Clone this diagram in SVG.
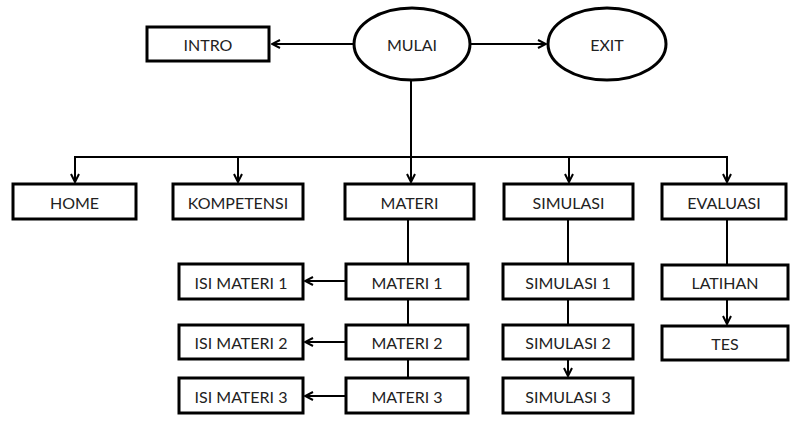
<svg xmlns="http://www.w3.org/2000/svg" width="790" height="421" viewBox="0 0 790 421">
<style>
.box{fill:#fff;stroke:#000;stroke-width:3}
.lbl{font-family:Lato,"Liberation Sans",sans-serif;font-size:16px;fill:#222;text-anchor:middle;dominant-baseline:central}
.ln{fill:none;stroke:#000;stroke-width:2}
</style>
<defs>
<marker id="ah" viewBox="0 0 10 10" refX="9" refY="5" markerWidth="10" markerHeight="10" markerUnits="userSpaceOnUse" orient="auto">
<path d="M1,1 L9,5 L1,9" fill="none" stroke="#000" stroke-width="2"/>
</marker>
</defs>
<g id="connectors">
<line class="ln" x1="354" y1="44" x2="272" y2="44" marker-end="url(#ah)"/>
<line class="ln" x1="470" y1="44" x2="546" y2="44" marker-end="url(#ah)"/>
<line class="ln" x1="411" y1="80" x2="411" y2="157"/>
<polyline class="ln" points="75,182 75,157 727,157 727,182"/>
<line class="ln" x1="75" y1="157" x2="75" y2="182" marker-end="url(#ah)"/>
<line class="ln" x1="238" y1="157" x2="238" y2="182" marker-end="url(#ah)"/>
<line class="ln" x1="411" y1="157" x2="411" y2="182" marker-end="url(#ah)"/>
<line class="ln" x1="569" y1="157" x2="569" y2="182" marker-end="url(#ah)"/>
<line class="ln" x1="727" y1="157" x2="727" y2="182" marker-end="url(#ah)"/>
<line class="ln" x1="408" y1="220" x2="408" y2="378"/>
<line class="ln" x1="346" y1="281" x2="305" y2="281" marker-end="url(#ah)"/>
<line class="ln" x1="346" y1="342" x2="305" y2="342" marker-end="url(#ah)"/>
<line class="ln" x1="346" y1="396" x2="305" y2="396" marker-end="url(#ah)"/>
<line class="ln" x1="568" y1="220" x2="568" y2="325"/>
<line class="ln" x1="568" y1="359" x2="568" y2="376" marker-end="url(#ah)"/>
<line class="ln" x1="727" y1="220" x2="727" y2="265"/>
<line class="ln" x1="727" y1="299" x2="727" y2="324" marker-end="url(#ah)"/>
</g>
<g id="intro"><rect class="box" x="147" y="27" width="122" height="34"/><text class="lbl" x="208" y="44">INTRO</text></g>
<g id="mulai"><ellipse class="box" cx="412" cy="44" rx="58" ry="36"/><text class="lbl" x="412" y="44">MULAI</text></g>
<g id="exit"><ellipse class="box" cx="607" cy="44" rx="59" ry="36"/><text class="lbl" x="607" y="44">EXIT</text></g>
<g id="home"><rect class="box" x="13" y="184" width="123" height="35"/><text class="lbl" x="74.5" y="202">HOME</text></g>
<g id="kompetensi"><rect class="box" x="173" y="184" width="130" height="35"/><text class="lbl" x="238" y="202">KOMPETENSI</text></g>
<g id="materi"><rect class="box" x="345" y="184" width="129" height="35"/><text class="lbl" x="409.5" y="202">MATERI</text></g>
<g id="simulasi"><rect class="box" x="504" y="184" width="129" height="35"/><text class="lbl" x="568.5" y="202">SIMULASI</text></g>
<g id="evaluasi"><rect class="box" x="662" y="184" width="124" height="35"/><text class="lbl" x="724" y="202">EVALUASI</text></g>
<g id="isi-materi-1"><rect class="box" x="179" y="264" width="124" height="35"/><text class="lbl" x="241" y="282">ISI MATERI 1</text></g>
<g id="materi-1"><rect class="box" x="346" y="264" width="122" height="35"/><text class="lbl" x="407" y="282">MATERI 1</text></g>
<g id="isi-materi-2"><rect class="box" x="179" y="325" width="124" height="34"/><text class="lbl" x="241" y="342">ISI MATERI 2</text></g>
<g id="materi-2"><rect class="box" x="346" y="325" width="122" height="34"/><text class="lbl" x="407" y="342">MATERI 2</text></g>
<g id="isi-materi-3"><rect class="box" x="179" y="378" width="124" height="35"/><text class="lbl" x="241" y="396">ISI MATERI 3</text></g>
<g id="materi-3"><rect class="box" x="346" y="378" width="122" height="35"/><text class="lbl" x="407" y="396">MATERI 3</text></g>
<g id="simulasi-1"><rect class="box" x="503" y="264" width="130" height="35"/><text class="lbl" x="568" y="282">SIMULASI 1</text></g>
<g id="simulasi-2"><rect class="box" x="503" y="325" width="130" height="34"/><text class="lbl" x="568" y="342">SIMULASI 2</text></g>
<g id="simulasi-3"><rect class="box" x="503" y="378" width="130" height="35"/><text class="lbl" x="568" y="396">SIMULASI 3</text></g>
<g id="latihan"><rect class="box" x="662" y="265" width="126" height="34"/><text class="lbl" x="725" y="282">LATIHAN</text></g>
<g id="tes"><rect class="box" x="662" y="326" width="126" height="34"/><text class="lbl" x="725" y="343">TES</text></g>
</svg>
